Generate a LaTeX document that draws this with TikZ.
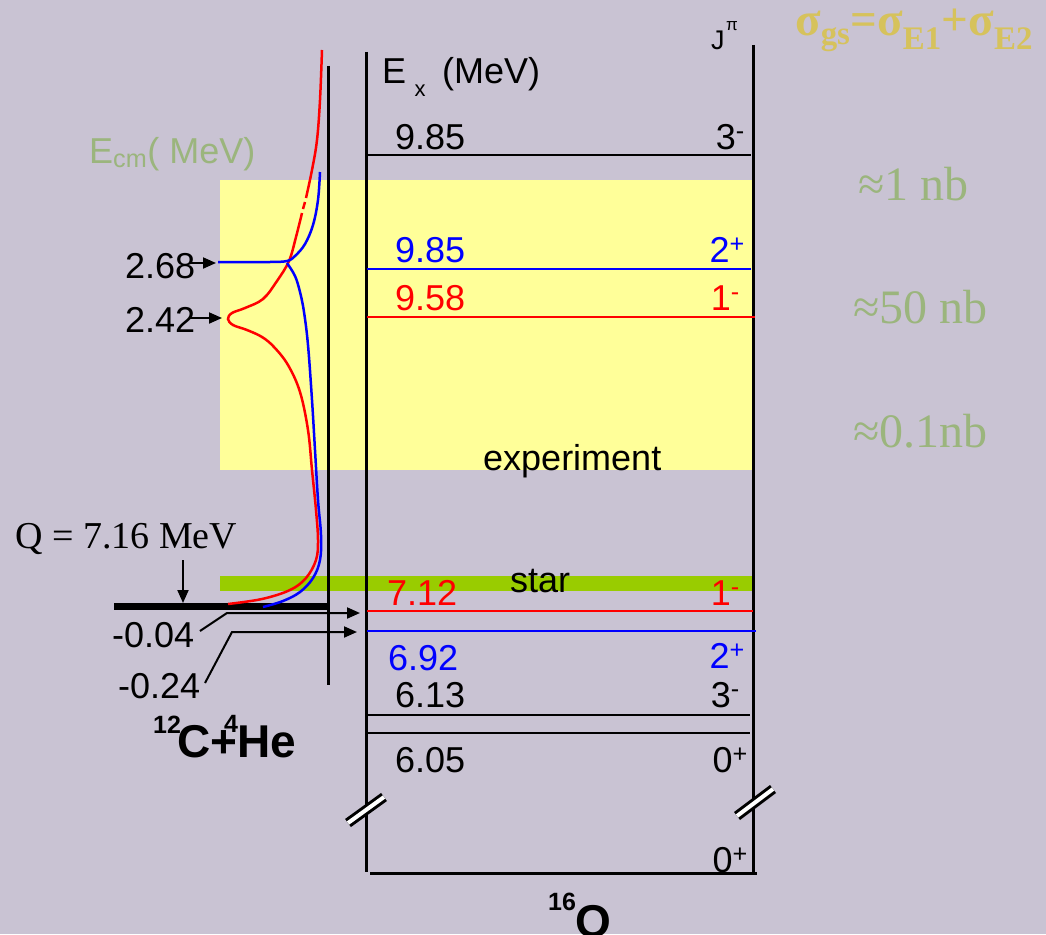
\documentclass[tikz,border=0pt]{standalone}
\usepackage{fontspec}
\setmainfont{Liberation Sans}
\newfontfamily\seriffont{Liberation Serif}
\usetikzlibrary{arrows.meta}
\definecolor{bg}{RGB}{201,195,211}
\definecolor{expyellow}{RGB}{255,255,153}
\definecolor{stargreen}{RGB}{153,204,0}
\definecolor{sage}{RGB}{155,181,125}
\definecolor{gold}{RGB}{214,194,92}
\definecolor{lvred}{RGB}{255,0,0}
\definecolor{lvblue}{RGB}{0,0,255}
\begin{document}
\begin{tikzpicture}[x=1pt,y=-1pt,
  txt/.style={inner sep=0pt, font=\fontsize{36}{36}\selectfont},
  big/.style={inner sep=0pt, font=\fontsize{46}{46}\selectfont\bfseries},
  sup/.style={inner sep=0pt, font=\fontsize{25}{25}\selectfont\bfseries},
  sertxt/.style={inner sep=0pt, font=\fontsize{38}{38}\selectfont\seriffont},
  nbtxt/.style={inner sep=0pt, text=sage, font=\fontsize{48}{48}\selectfont\seriffont},
  lev/.style={line width=2.7pt},
  axisline/.style={line width=3pt},
  arr/.style={line width=2pt, -{Triangle[length=13pt,width=11pt]}},
  curve/.style={line width=2.5pt},
  brk/.style={line width=10pt},
  brkw/.style={line width=4pt, white},
]
\fill[bg] (0,0) rectangle (1046,934);
\useasboundingbox (0,0) rectangle (1046,934);
% bands
\fill[expyellow] (220,180) rectangle (753,470);
\fill[stargreen] (220,576) rectangle (753,591);
% frame of 16O scheme
\coordinate (OLt) at (366,52);
\coordinate (OLb) at (366,872);
\coordinate (ORt) at (753,45);
\coordinate (ORb) at (753,874);
\coordinate (Bl) at (370,873);
\coordinate (Br) at (757,873);
\draw[axisline] (OLt) -- (OLb);
\draw[axisline] (ORt) -- (ORb);
\draw[axisline] (Bl) -- (Br);
% break marks
\coordinate (bk1a) at (348,823); \coordinate (bk1b) at (384,797);
\coordinate (bk2a) at (737,816); \coordinate (bk2b) at (773,789);
\draw[brk] (bk1a) -- (bk1b);
\draw[brkw] (bk1a) -- (bk1b);
\draw[brk] (bk2a) -- (bk2b);
\draw[brkw] (bk2a) -- (bk2b);
% levels
\coordinate (l1a) at (367,155); \coordinate (l1b) at (751,155);
\coordinate (l2a) at (367,269); \coordinate (l2b) at (751,269);
\coordinate (l3a) at (367,317); \coordinate (l3b) at (755,317);
\coordinate (l4a) at (367,611); \coordinate (l4b) at (753,611);
\coordinate (l5a) at (367,631); \coordinate (l5b) at (756,631);
\coordinate (l6a) at (367,715); \coordinate (l6b) at (750,715);
\coordinate (l7a) at (367,733); \coordinate (l7b) at (750,733);
\draw[lev] (l1a) -- (l1b);
\draw[lev, lvblue] (l2a) -- (l2b);
\draw[lev, lvred] (l3a) -- (l3b);
\draw[lev, lvred] (l4a) -- (l4b);
\draw[lev, lvblue] (l5a) -- (l5b);
\draw[lev] (l6a) -- (l6b);
\draw[lev] (l7a) -- (l7b);
% left panel axis
\coordinate (At) at (328,66);
\coordinate (Ab) at (328,685);
\draw[axisline] (At) -- (Ab);
\coordinate (Ta) at (114,606);
\coordinate (Tb) at (328,606);
\draw[line width=7pt] (Ta) -- (Tb);
% curves
\draw[curve, lvred] plot[smooth, tension=0.6] coordinates {(322,50) (320,100) (317,140) (312,170) (306,198)};
\draw[curve, lvred] plot[smooth, tension=0.6] coordinates {(305,202) (303,209)};
\draw[curve, lvred] plot[smooth, tension=0.6] coordinates {(302,213) (296,237) (289,261) (277,281) (263,299) (245,308) (232,313) (228,319) (233,325) (247,330) (262,337) (274,347) (288,365) (300,392) (308,430) (312,470) (316,510) (318,540) (316,560) (306,578) (290,590) (262,599) (228,604)};
\draw[curve, lvblue] plot[smooth, tension=0.6] coordinates {(320,172) (318,200) (313,225) (305,244) (295,256) (287,261) (270,262) (240,262) (218,262)};
\draw[curve, lvblue] plot[smooth, tension=0.6] coordinates {(287,263) (295,276) (300,292) (304,312) (308,345) (312,400) (315,450) (318,500) (321,535) (320,560) (313,578) (300,592) (283,601) (263,607)};
% left labels
\node[txt, anchor=base west] (e268) at (125,278) {2.68};
\node[txt, anchor=base west] (e242) at (125,332) {2.42};
\coordinate (a268s) at (190,263); \coordinate (a268e) at (216,263);
\coordinate (a242s) at (190,318); \coordinate (a242e) at (222,318);
\draw[arr] (a268s) -- (a268e);
\draw[arr] (a242s) -- (a242e);
\node[sertxt, anchor=base west] (Q) at (15,548) {Q = 7.16 MeV};
\coordinate (qa) at (183,560); \coordinate (qb) at (183,603);
\draw[arr] (qa) -- (qb);
\node[txt, anchor=base west] (m004) at (112,647) {-0.04};
\node[txt, anchor=base west] (m024) at (118,698) {-0.24};
\coordinate (p1a) at (200,631); \coordinate (p1b) at (227,613); \coordinate (p1c) at (360,613);
\coordinate (p2a) at (205,683); \coordinate (p2b) at (232,632); \coordinate (p2c) at (357,632);
\draw[arr] (p1a) -- (p1b) -- (p1c);
\draw[arr] (p2a) -- (p2b) -- (p2c);
\node[sup, anchor=base west] (c12) at (153,733) {12};
\node[big, anchor=base west] (cHe) at (177,757) {C+He};
\node[sup, anchor=base west] (he4) at (224,732) {4};
\node[inner sep=0pt, anchor=base west, text=sage, font=\fontsize{36}{36}\selectfont] (ecm) at (89,163) {E\textsubscript{cm}( MeV)};
% 16O scheme labels
\node[txt, anchor=base west] (ex) at (382,83) {E};
\node[inner sep=0pt, anchor=base, font=\fontsize{22}{22}\selectfont] (exs) at (420,96) {x};
\node[txt, anchor=base west] (exu) at (442,83) {(MeV)};
\node[inner sep=0pt, anchor=base west, font=\fontsize{27}{27}\selectfont] (jj) at (711,50) {J};
\node[inner sep=0pt, anchor=base west, font=\fontsize{17}{17}\selectfont] (jpi) at (726,31) {π};
\node[txt, anchor=base west] (t1) at (395,149) {9.85};
\node[txt, anchor=base east] (j1) at (745,149) {3\textsuperscript{-}};
\node[txt, anchor=base west, text=lvblue] (t2) at (395,262) {9.85};
\node[txt, anchor=base east, text=lvblue] (j2) at (745,262) {2\textsuperscript{+}};
\node[txt, anchor=base west, text=lvred] (t3) at (395,310) {9.58};
\node[txt, anchor=base east, text=lvred] (j3) at (740,310) {1\textsuperscript{-}};
\node[txt, anchor=base west] (expt) at (483,470) {experiment};
\node[txt, anchor=base west] (star) at (510,592) {star};
\node[txt, anchor=base west, text=lvred] (t4) at (387,605) {7.12};
\node[txt, anchor=base east, text=lvred] (j4) at (740,605) {1\textsuperscript{-}};
\node[txt, anchor=base west, text=lvblue] (t5) at (388,670) {6.92};
\node[txt, anchor=base east, text=lvblue] (j5) at (745,668) {2\textsuperscript{+}};
\node[txt, anchor=base west] (t6) at (395,707) {6.13};
\node[txt, anchor=base east] (j6) at (740,707) {3\textsuperscript{-}};
\node[txt, anchor=base west] (t7) at (395,772) {6.05};
\node[txt, anchor=base east] (j7) at (748,772) {0\textsuperscript{+}};
\node[txt, anchor=base east] (j8) at (748,872) {0\textsuperscript{+}};
\node[sup, anchor=base west] (o16s) at (548,910) {16};
\node[big, anchor=base west] (o16) at (575,937) {O};
% right annotations
\node[inner sep=0pt, anchor=base west, text=gold, font=\fontsize{47}{47}\selectfont\seriffont\bfseries] (sig) at (795,36) {σ\textsubscript{gs}=σ\textsubscript{E1}+σ\textsubscript{E2}};
\node[nbtxt, anchor=base west] (nb1) at (858,200) {≈1 nb};
\node[nbtxt, anchor=base west] (nb2) at (853,323) {≈50 nb};
\node[nbtxt, anchor=base west] (nb3) at (853,447) {≈0.1nb};
\end{tikzpicture}
\end{document}
